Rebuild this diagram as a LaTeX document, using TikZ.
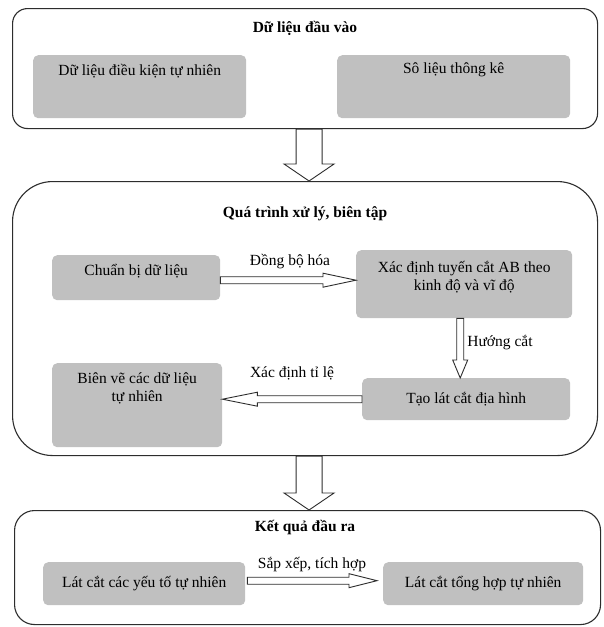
\documentclass[tikz,border=0pt]{standalone}
\usepackage{fontspec}
\setmainfont{Liberation Serif}
\usetikzlibrary{calc}
\definecolor{boxgray}{RGB}{192,192,192}
\definecolor{lineblk}{RGB}{45,45,45}
\newcommand\dfont{\fontsize{15.5}{18}\selectfont}
% horizontal block arrow: style, start, end, half shaft, half head, head length
\newcommand\harrowshape[6]{\draw[#1] let \p1=(#2), \p2=(#3), \n1={sign(\x2-\x1)} in
  (\x1,\y1+#4) -- (\x2-\n1*#6,\y1+#4) -- (\x2-\n1*#6,\y1+#5) -- (\x2,\y1)
  -- (\x2-\n1*#6,\y1-#5) -- (\x2-\n1*#6,\y1-#4) -- (\x1,\y1-#4) -- cycle;}
% vertical block arrow
\newcommand\varrowshape[6]{\draw[#1] let \p1=(#2), \p2=(#3), \n1={sign(\y2-\y1)} in
  (\x1-#4,\y1) -- (\x1-#4,\y2-\n1*#6) -- (\x1-#5,\y2-\n1*#6) -- (\x1,\y2)
  -- (\x1+#5,\y2-\n1*#6) -- (\x1+#4,\y2-\n1*#6) -- (\x1+#4,\y1) -- cycle;}
\begin{document}
\begin{tikzpicture}[x=1pt,y=-1pt,
  outer/.style={draw=lineblk, line width=1.1pt, fill=white, anchor=north west, inner sep=0pt},
  title/.style={font=\dfont\bfseries, inner sep=0pt},
  gbox/.style={fill=boxgray, rounded corners=5pt, anchor=north west, inner xsep=0pt, font=\dfont},
  lbl/.style={font=\dfont, inner sep=0pt},
  arrowline/.style={draw=lineblk, line width=0.9pt, fill=white, line join=miter}]
\useasboundingbox (0,0) rectangle (604,627);
% box 1
\node[outer, minimum width=585pt, minimum height=120pt, rounded corners=15pt] (inbox) at (12,8) {};
\node[title] (tin) at (305,28) {Dữ liệu đầu vào};
\node[gbox, minimum width=213pt, minimum height=63pt, inner ysep=10pt, text height=10pt, text depth=33pt] (nat) at (33,55) {Dữ liệu điều kiện tự nhiên};
\node[gbox, minimum width=233pt, minimum height=63pt, inner ysep=8pt, text height=10pt, text depth=37pt] (stat) at (337,55) {Sô liệu thông kê};
% box 2
\node[outer, minimum width=585pt, minimum height=274pt, rounded corners=40pt] (proc) at (12,181) {};
\node[title] (tproc) at (305,214) {Quá trình xử lý, biên tập};
\node[gbox, minimum width=168pt, minimum height=45pt, inner ysep=10pt, text height=10pt, text depth=15pt] (prep) at (52,255) {Chuẩn bị dữ liệu};
\node[gbox, minimum width=216pt, minimum height=68pt, inner ysep=12pt, text height=10pt, text depth=34pt] (xab) at (356,250)
  {\begin{tabular}[t]{@{}c@{}}Xác định tuyến cắt AB theo\\kinh độ và vĩ độ\end{tabular}};
\node[gbox, minimum width=208pt, minimum height=42pt] (tao) at (362,378) {Tạo lát cắt địa hình};
\node[gbox, minimum width=170pt, minimum height=84pt, inner ysep=10pt, text height=10pt, text depth=54pt] (bien) at (52,363)
  {\begin{tabular}[t]{@{}c@{}}Biên vẽ các dữ liệu\\tự nhiên\end{tabular}};
\node[lbl] (ldb) at (290,262) {Đồng bộ hóa};
\node[lbl] (lhc) at (500,343) {Hướng cắt};
\node[lbl] (ltl) at (292,373) {Xác định tỉ lệ};
% box 3
\node[outer, minimum width=586pt, minimum height=114pt, rounded corners=20pt] (outbox) at (14,510) {};
\node[title] (tout) at (305,528) {Kết quả đầu ra};
\node[gbox, minimum width=202pt, minimum height=43pt] (lc1) at (43,562) {Lát cắt các yếu tố tự nhiên};
\node[gbox, minimum width=200pt, minimum height=43pt] (lc2) at (383,562) {Lát cắt tổng hợp tự nhiên};
\node[lbl] (lsx) at (312,565) {Sắp xếp, tích hợp};
% arrows
\varrowshape{arrowline}{$(inbox.south)+(4,0)$}{$(proc.north)+(4,0)$}{13pt}{25pt}{17pt}
\varrowshape{arrowline}{$(proc.south)+(4,0)$}{$(outbox.north)+(2,0)$}{13pt}{25pt}{17pt}
\harrowshape{arrowline}{$(prep.east)+(0,2.5)$}{$(xab.west)+(0,-4)$}{3.5pt}{7pt}{33pt}
\varrowshape{arrowline}{$(xab.south)+(-4,0)$}{$(tao.north)+(-6,0)$}{3.5pt}{7.5pt}{18pt}
\harrowshape{arrowline}{tao.west}{bien.east}{3.5pt}{7pt}{35pt}
\harrowshape{arrowline}{$(lc1.east)+(2,-3)$}{$(lc2.west)+(-6,0)$}{3.5pt}{7pt}{28pt}
\end{tikzpicture}
\end{document}
